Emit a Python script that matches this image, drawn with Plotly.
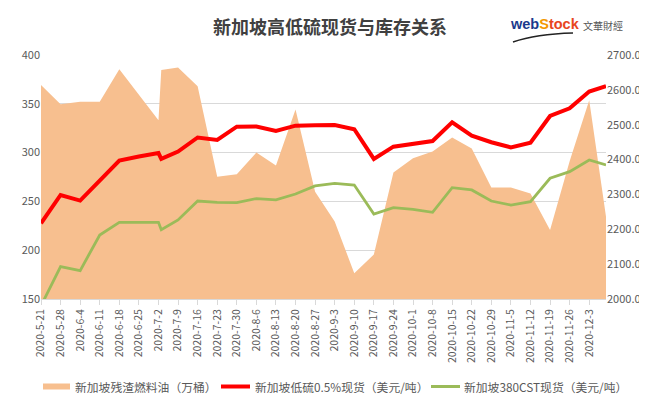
import plotly.graph_objects as go

# ---------------- data ----------------
dates = ['2020-05-21', '2020-05-28', '2020-06-04', '2020-06-11', '2020-06-18', '2020-06-25',
         '2020-07-02', '2020-07-03', '2020-07-09', '2020-07-16', '2020-07-23', '2020-07-30',
         '2020-08-06', '2020-08-13', '2020-08-20', '2020-08-27', '2020-09-03', '2020-09-10',
         '2020-09-17', '2020-09-24', '2020-10-01', '2020-10-08', '2020-10-15', '2020-10-22',
         '2020-10-29', '2020-11-05', '2020-11-12', '2020-11-19', '2020-11-26', '2020-12-03',
         '2020-12-09']

stock_10k_bbl = [2614, 2559, 2566, 2566, 2659, 2585,
                 2513, 2657, 2664, 2610, 2351, 2358,
                 2420, 2383, 2544, 2308, 2222, 2074,
                 2128, 2363, 2404, 2423, 2463, 2432,
                 2320, 2320, 2303, 2198, 2395, 2570,
                 2236]

vlsfo_usd_t = [227.6, 256.6, 250.8, 271.0, 291.8, 296.0,
               299.5, 293.5, 301.0, 315.5, 313.0, 326.6,
               326.8, 322.1, 327.6, 328.0, 328.3, 323.9,
               293.5, 306.1, 309.5, 311.9, 331.0, 317.4,
               310.6, 305.4, 310.2, 337.5, 345.4, 362.5,
               368.2]

cst380_usd_t = [143.0, 183.2, 179.1, 215.6, 228.6, 228.6,
                228.6, 221.0, 231.0, 250.4, 249.0, 248.8,
                252.9, 251.5, 257.6, 265.8, 268.5, 266.8,
                237.1, 243.6, 241.9, 238.8, 264.1, 261.7,
                250.4, 246.3, 249.8, 273.7, 280.5, 292.4,
                287.3]

tick_dates = ['2020-05-21', '2020-05-28', '2020-06-04', '2020-06-11', '2020-06-18', '2020-06-25',
              '2020-07-02', '2020-07-09', '2020-07-16', '2020-07-23', '2020-07-30', '2020-08-06',
              '2020-08-13', '2020-08-20', '2020-08-27', '2020-09-03', '2020-09-10', '2020-09-17',
              '2020-09-24', '2020-10-01', '2020-10-08', '2020-10-15', '2020-10-22', '2020-10-29',
              '2020-11-05', '2020-11-12', '2020-11-19', '2020-11-26', '2020-12-03']
tick_labels = ['2020-5-21', '2020-5-28', '2020-6-4', '2020-6-11', '2020-6-18', '2020-6-25',
               '2020-7-2', '2020-7-9', '2020-7-16', '2020-7-23', '2020-7-30', '2020-8-6',
               '2020-8-13', '2020-8-20', '2020-8-27', '2020-9-3', '2020-9-10', '2020-9-17',
               '2020-9-24', '2020-10-1', '2020-10-8', '2020-10-15', '2020-10-22', '2020-10-29',
               '2020-11-5', '2020-11-12', '2020-11-19', '2020-11-26', '2020-12-3']

names = ['新加坡残渣燃料油（万桶）', '新加坡低硫0.5%现货（美元/吨）', '新加坡380CST现货（美元/吨）']
title_text = '新加坡高低硫现货与库存关系'

# ---------------- figure ----------------
W, H = 647, 397
ML, MR, MT, MB = 33, 49, 47, 106
FONT = 'Noto Sans CJK SC'
GREY = '#595959'
AREA_C = '#F7BF8F'
RED_C = '#FF0000'
GREEN_C = '#9BBB59'


def px2paper(px, py):
    pw = W - ML - MR
    ph = H - MT - MB
    return (px - ML) / pw, (H - MB - py) / ph


fig = go.Figure()
fig.add_trace(go.Scatter(
    x=dates, y=stock_10k_bbl, name=names[0], yaxis='y',
    mode='lines', line=dict(width=0, color=AREA_C),
    fill='tozeroy', fillcolor=AREA_C, showlegend=False))
fig.add_trace(go.Scatter(
    x=dates, y=vlsfo_usd_t, name=names[1], yaxis='y2',
    mode='lines', line=dict(width=4, color=RED_C), showlegend=False))
fig.add_trace(go.Scatter(
    x=dates, y=cst380_usd_t, name=names[2], yaxis='y2',
    mode='lines', line=dict(width=2.8, color=GREEN_C), showlegend=False))

fig.update_layout(
    width=W, height=H,
    margin=dict(l=ML, r=MR, t=MT, b=MB, pad=0, autoexpand=False),
    paper_bgcolor='white', plot_bgcolor='white',
    font=dict(family=FONT, size=11, color=GREY),
    showlegend=False,
    xaxis=dict(type='date', range=['2020-05-21', '2020-12-09'],
               tickvals=tick_dates, ticktext=tick_labels, tickangle=-90,
               tickfont=dict(size=10.5, color=GREY),
               ticks='outside', ticklen=5, tickcolor='#D9D9D9',
               showline=True, linecolor='#D9D9D9', linewidth=1,
               showgrid=False, zeroline=False),
    yaxis=dict(side='right', range=[2000, 2700], dtick=100, tickformat='.1f',
               showgrid=False, zeroline=False, showline=False, ticks='',
               tickfont=dict(size=11, color=GREY)),
    yaxis2=dict(side='left', overlaying='y', range=[150, 400], dtick=50,
                showgrid=True, gridcolor='#D9D9D9', gridwidth=1,
                zeroline=False, showline=False, ticks='',
                tickfont=dict(size=11, color=GREY)),
)

# ---- manual legend (one row, like the reference) ----
LEG_Y = 378.5
legend_items = [
    (names[0], AREA_C, 6, 35, 62, 65),
    (names[1], RED_C, 4, 213, 242, 245),
    (names[2], GREEN_C, 3, 423, 452, 454),
]
for text, col, thick, sx0, sx1, tx0 in legend_items:
    a = px2paper(sx0, LEG_Y)
    b = px2paper(sx1, LEG_Y)
    fig.add_shape(type='line', xref='paper', yref='paper',
                  x0=a[0], y0=a[1], x1=b[0], y1=b[1],
                  line=dict(color=col, width=thick))
    t = px2paper(tx0, LEG_Y)
    fig.add_annotation(text=text, x=t[0], y=t[1], xref='paper', yref='paper',
                       showarrow=False, xanchor='left', yanchor='middle',
                       font=dict(family=FONT, size=11.8, color=GREY))

# title
tx, ty = px2paper(322, 18)
fig.add_annotation(text='<b>' + title_text + '</b>', x=tx, y=ty, xref='paper', yref='paper',
                   showarrow=False, xanchor='center', yanchor='middle',
                   font=dict(family=FONT, size=18, color='#404040'))

# logo
lx, ly = px2paper(500, 16)
fig.add_annotation(
    text="<b><span style='color:#1B3A8C'>web</span><span style='color:#F39800'>S</span>"
         "<span style='color:#E8461E'>tock</span></b>",
    x=lx, y=ly, xref='paper', yref='paper', showarrow=False,
    xanchor='left', yanchor='middle',
    font=dict(family='Liberation Sans', size=14.5))
cx, cy = px2paper(573, 18)
fig.add_annotation(text='文華財經', x=cx, y=cy, xref='paper', yref='paper', showarrow=False,
                   xanchor='left', yanchor='middle',
                   font=dict(family=FONT, size=10, color='#555555'))
p0 = px2paper(505, 34)
p1 = px2paper(528, 26)
p2 = px2paper(565, 25)
fig.add_shape(type='path', xref='paper', yref='paper',
              path=f'M {p0[0]},{p0[1]} Q {p1[0]},{p1[1]} {p2[0]},{p2[1]}',
              line=dict(color='#222222', width=1.5))

fig.write_html('out.html')
